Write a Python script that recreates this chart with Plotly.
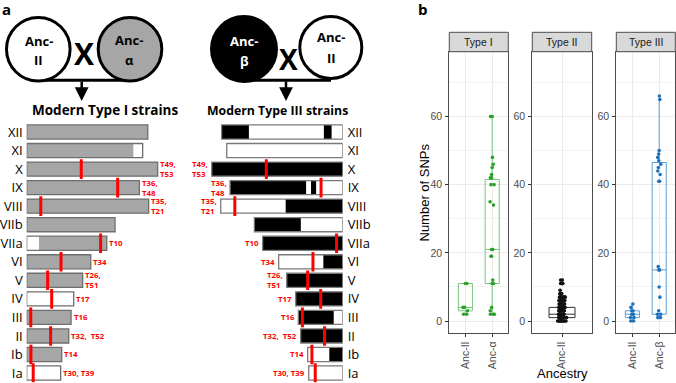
import plotly.graph_objects as go

W, H = 676, 383

# ---------------- data: panel a ----------------
chroms = ["XII", "XI", "X", "IX", "VIII", "VIIb", "VIIa", "VI", "V", "IV", "III", "II", "Ib", "Ia"]
chrom_len_mb = [6.88, 6.59, 7.44, 6.40, 6.93, 5.02, 4.55, 3.64, 3.18, 2.67, 2.52, 2.39, 1.99, 1.93]

# Modern Type I: segments inherited from Anc-alpha (grey); remainder from Anc-II (white)
t1_alpha_chrom = ["XII", "XI", "X", "IX", "VIII", "VIIb", "VIIa", "VI", "V", "III", "II", "Ib"]
t1_alpha_start = [0, 0, 0, 0, 0, 0, 0.70, 0, 0, 0, 0, 0]
t1_alpha_end = [6.88, 6.06, 7.44, 6.40, 6.93, 5.02, 4.55, 3.64, 3.18, 2.52, 2.39, 1.99]

# Modern Type III: segments inherited from Anc-beta (black); remainder from Anc-II (white)
t3_beta_chrom = ["XII", "XII", "X", "IX", "IX", "VIII", "VIIb", "VIIa", "VI", "V", "IV", "III", "II", "Ib"]
t3_beta_start = [0, 5.81, 0, 0, 4.60, 3.69, 0, 0, 2.54, 0, 0, 0, 0, 1.23]
t3_beta_end = [1.55, 6.25, 7.44, 4.32, 4.89, 6.93, 2.64, 4.55, 3.64, 3.18, 2.67, 2.01, 2.39, 1.99]

mark_chrom = ["X", "IX", "VIII", "VIIa", "VI", "V", "IV", "III", "II", "Ib", "Ia"]
mark_pos_mb = [3.10, 5.17, 0.80, 4.20, 1.95, 1.19, 1.42, 0.23, 1.36, 0.24, 0.37]
mark_label = ["T49,<br>T53", "T36,<br>T48", "T35,<br>T21", "T10", "T34", "T26,<br>T51", "T17", "T16",
              "T32,\u00a0 T52", "T14", "T30, T39"]

# ---------------- data: panel b ----------------
cats_I = ["Anc-II", "Anc-α"]
cats_II = ["Anc-II"]
cats_III = ["Anc-II", "Anc-β"]

snp_I_ancII = [11, 11, 4, 4, 3, 2, 2]
snp_I_ancA = [60, 60, 60, 48, 46, 45, 43, 42, 42, 40, 40, 35, 34, 21, 21, 19, 19, 12, 11, 11, 4, 3, 2, 2, 2]
snp_II_ancII = [0, 0, 0, 0, 0, 0, 0, 0, 0, 0,
                1, 1, 1, 1, 1, 1, 1, 1, 1, 1, 1, 1,
                2, 2, 2, 2, 2, 2, 2, 2, 2, 2, 2, 2,
                3, 3, 3, 3, 3, 3, 3, 3, 3, 3,
                4, 4, 4, 4, 4, 4, 4, 4, 4, 4,
                5, 5, 5, 5, 5, 5, 5, 5, 5,
                6, 6, 6, 6, 6, 6, 6, 6,
                7, 7, 7, 7, 7, 7, 7,
                8, 8, 8, 8, 8, 8,
                9, 11, 11, 11, 11, 11, 12, 12]
snp_III_ancII = [0, 0, 1, 1, 2, 2, 2, 3, 3, 4, 5]
snp_III_ancB = [66, 65, 50, 49, 48, 47, 46, 45, 44, 43, 41, 41, 16, 15, 15, 10, 7, 3, 2, 2, 1, 1]

box_I = dict(q1=[3, 11], median=[4, 21], q3=[11, 41.5], lowerfence=[2, 2], upperfence=[11, 60])
box_II = dict(q1=[1], median=[2], q3=[4], lowerfence=[0], upperfence=[8])
box_III = dict(q1=[1, 2], median=[2, 15], q3=[3, 46.5], lowerfence=[0, 1], upperfence=[5, 65.5])

# ---------------- helpers ----------------
FA = "Open Sans"
FB = "Liberation Sans"


def pxx(x):
    return x / W


def pxy(y):
    return 1 - y / H


fig = go.Figure()

SCALE = 17.6          # px per Mb
ROW0, STEP = 132, 18.54
ydom_a = [pxy(ROW0 + 13.5 * STEP), pxy(ROW0 - 0.5 * STEP)]
BARW = 0.76
GREY = "#a6a6a6"
OUTL = "#6e6e6e"

# ----- left chromosome panel (Type I) -----
fig.add_trace(go.Bar(orientation="h", y=chroms, x=chrom_len_mb, base=[0] * len(chroms), width=BARW,
                     marker=dict(color="white", line=dict(width=0)), xaxis="x", yaxis="y"))
fig.add_trace(go.Bar(orientation="h", y=t1_alpha_chrom,
                     x=[e - s for s, e in zip(t1_alpha_start, t1_alpha_end)], base=t1_alpha_start,
                     width=BARW, marker=dict(color=GREY, line=dict(width=0)), xaxis="x", yaxis="y"))
fig.add_trace(go.Bar(orientation="h", y=chroms, x=chrom_len_mb, base=[0] * len(chroms), width=BARW,
                     marker=dict(color="rgba(0,0,0,0)", line=dict(width=1.3, color=OUTL)),
                     xaxis="x", yaxis="y"))
fig.add_trace(go.Scatter(x=mark_pos_mb, y=mark_chrom, mode="markers",
                         marker=dict(symbol="line-ns", size=14, line=dict(width=3, color="#ff0000")),
                         xaxis="x", yaxis="y"))

# ----- right chromosome panel (Type III), right-aligned -----
lenmap = dict(zip(chroms, chrom_len_mb))
fig.add_trace(go.Bar(orientation="h", y=chroms, x=chrom_len_mb, base=[-L for L in chrom_len_mb], width=BARW,
                     marker=dict(color="white", line=dict(width=0)), xaxis="x2", yaxis="y2"))
fig.add_trace(go.Bar(orientation="h", y=t3_beta_chrom,
                     x=[e - s for s, e in zip(t3_beta_start, t3_beta_end)],
                     base=[s - lenmap[c] for c, s in zip(t3_beta_chrom, t3_beta_start)],
                     width=BARW, marker=dict(color="black", line=dict(width=0)), xaxis="x2", yaxis="y2"))
fig.add_trace(go.Bar(orientation="h", y=chroms, x=chrom_len_mb, base=[-L for L in chrom_len_mb], width=BARW,
                     marker=dict(color="rgba(0,0,0,0)", line=dict(width=1.3, color="#7a7a7a")),
                     xaxis="x2", yaxis="y2"))
fig.add_trace(go.Scatter(x=[p - lenmap[c] for c, p in zip(mark_chrom, mark_pos_mb)], y=mark_chrom,
                         mode="markers",
                         marker=dict(symbol="line-ns", size=14, line=dict(width=3, color="#ff0000")),
                         xaxis="x2", yaxis="y2"))

annotations = []
RED = "#ff0000"
for c, lab in zip(mark_chrom, mark_label):
    annotations.append(dict(x=lenmap[c], y=c, xref="x", yref="y", text=lab, showarrow=False,
                            xanchor="left", yanchor="middle", xshift=1.5, align="left",
                            borderpad=0,
                            font=dict(family=FA, size=7.8, color=RED, weight="bold")))
    annotations.append(dict(x=-lenmap[c], y=c, xref="x2", yref="y2", text=lab, showarrow=False,
                            xanchor="right", yanchor="middle", xshift=-2.5, align="left",
                            borderpad=0,
                            font=dict(family=FA, size=7.8, color=RED, weight="bold")))

# ----- panel b: boxes and points -----
facets = [
    ("x3", "y3", cats_I, box_I, [snp_I_ancII, snp_I_ancA], "#2ca02c", "#79c679", 0.4),
    ("x4", "y4", cats_II, box_II, [snp_II_ancII], "#111111", "#333333", 0.4),
    ("x5", "y5", cats_III, box_III, [snp_III_ancII, snp_III_ancB], "#1f72b8", "#5b9fd6", 0.35),
]
for xa, ya, cats, st, pts, pcol, bcol, jit in facets:
    fig.add_trace(go.Box(x=cats, q1=st["q1"], median=st["median"], q3=st["q3"],
                         lowerfence=st["lowerfence"], upperfence=st["upperfence"],
                         boxpoints=False, whiskerwidth=0, fillcolor="rgba(255,255,255,0)",
                         line=dict(color=bcol, width=1), xaxis=xa, yaxis=ya))
    for cat, vals in zip(cats, pts):
        fig.add_trace(go.Box(x=[cat] * len(vals), y=vals, boxpoints="all", jitter=jit, pointpos=0,
                             fillcolor="rgba(0,0,0,0)", line=dict(color="rgba(0,0,0,0)", width=0),
                             marker=dict(color=pcol, size=3.6, line=dict(width=0)),
                             xaxis=xa, yaxis=ya))

PB_TOP, PB_BOT = 51.7, 333.3
ydom_b = [pxy(PB_BOT), pxy(PB_TOP)]
facet_x = [(449.3, 508.3, [-0.6, 1.6]), (532.3, 591.7, [-0.6, 0.6]), (616.3, 675.3, [-0.6, 1.6])]
strip_txt = ["Type I", "Type II", "Type III"]

layout_axes = {}
for k, (x0, x1, rng) in enumerate(facet_x):
    xi, yi = 3 + k, 3 + k
    layout_axes[f"xaxis{xi}"] = dict(
        domain=[pxx(x0), pxx(x1)], range=rng, anchor=f"y{yi}", type="category",
        showgrid=True, gridcolor="#ebebeb", gridwidth=1, zeroline=False,
        showline=True, mirror=True, linecolor="#4d4d4d", linewidth=1,
        ticks="outside", ticklen=3, tickcolor="#333333", tickwidth=1,
        tickangle=-90, tickfont=dict(family=FB, size=10.5, color="#4d4d4d"))
    layout_axes[f"yaxis{yi}"] = dict(
        domain=ydom_b, range=[-3.6, 79], anchor=f"x{xi}",
        tickvals=[0, 20, 40, 60], showgrid=True, gridcolor="#ebebeb", gridwidth=1, zeroline=False,
        minor=dict(tick0=0, dtick=10, showgrid=True, gridcolor="#f3f3f3", gridwidth=0.6),
        showline=True, mirror=True, linecolor="#4d4d4d", linewidth=1,
        ticks="outside", ticklen=3, tickcolor="#333333", tickwidth=1, ticklabelstandoff=1,
        tickfont=dict(family=FB, size=10.5, color="#4d4d4d"))

shapes = []
for (x0, x1, rng), t in zip(facet_x, strip_txt):
    shapes.append(dict(type="rect", xref="paper", yref="paper", x0=pxx(x0), x1=pxx(x1),
                       y0=pxy(51.7), y1=pxy(32.3), fillcolor="#d9d9d9",
                       line=dict(color="#4d4d4d", width=1)))
    annotations.append(dict(x=pxx((x0 + x1) / 2), y=pxy(42), xref="paper", yref="paper", text=t,
                            xanchor="center", yanchor="middle",
                            showarrow=False, font=dict(family=FB, size=10.5, color="#1a1a1a")))

annotations.append(dict(x=pxx(424), y=pxy(192.5), xref="paper", yref="paper", text="Number of SNPs",
                        xanchor="center", yanchor="middle",
                        textangle=-90, showarrow=False, font=dict(family=FB, size=13, color="black")))
annotations.append(dict(x=pxx(562.3), y=pxy(373), xref="paper", yref="paper", text="Ancestry",
                        xanchor="center", yanchor="middle",
                        showarrow=False, font=dict(family=FB, size=13, color="black")))


# ----- schematic (top of panel a) -----
def circle(cx, cy, r, fill):
    return dict(type="circle", xref="paper", yref="paper", x0=pxx(cx - r), x1=pxx(cx + r),
                y0=pxy(cy + r), y1=pxy(cy - r), fillcolor=fill, line=dict(color="black", width=3))


def hline(xa, xb, y):
    return dict(type="line", xref="paper", yref="paper", x0=pxx(xa), x1=pxx(xb), y0=pxy(y), y1=pxy(y),
                line=dict(color="black", width=3))


shapes += [hline(38.3, 130, 80.3), hline(244, 331, 80.3),
           circle(38.3, 49.2, 31.8, "white"), circle(130, 49.2, 31.8, GREY),
           circle(244, 49, 32.5, "black"), circle(330.8, 47.5, 31, "white")]


def txt(t, x, y, size, color="black", bold=True, family=FA):
    annotations.append(dict(x=pxx(x), y=pxy(y), xref="paper", yref="paper", text=t, showarrow=False,
                            xanchor="center", yanchor="middle",
                            font=dict(family=family, size=size, color=color,
                                      weight="bold" if bold else "normal")))


txt("Anc-", 38.5, 41, 13)
txt("II", 38.5, 60, 13)
txt("Anc-", 129, 40, 13)
txt("α", 129, 60, 13)
txt("Anc-", 244, 41, 13, color="white")
txt("β", 244, 61, 13, color="white")
txt("Anc-", 331, 37.5, 13)
txt("II", 331, 57.5, 13)
txt("X", 84, 53, 30)
txt("X", 288, 58.5, 28)
txt("Modern Type I strains", 105, 110, 13.5)
txt("Modern Type III strains", 277.5, 110, 12.3)
txt("a", 6.5, 9, 15)
txt("b", 423.5, 9.5, 15)

for xa in (81.7, 286):
    annotations.append(dict(x=pxx(xa), y=pxy(101), xref="paper", yref="paper", ax=0, ay=-21,
                            text="", showarrow=True, arrowhead=2, arrowsize=1.1, arrowwidth=2.5,
                            arrowcolor="black"))

fig.update_layout(
    width=W, height=H, margin=dict(l=0, r=0, t=0, b=0),
    paper_bgcolor="white", plot_bgcolor="white", showlegend=False,
    barmode="overlay", boxmode="overlay", boxgap=0.25,
    xaxis=dict(domain=[pxx(26.7), pxx(190)], range=[0, (190 - 26.7) / SCALE], visible=False, anchor="y"),
    yaxis=dict(domain=ydom_a, type="category", categoryorder="array", categoryarray=chroms,
               range=[13.5, -0.5], anchor="x", showgrid=False, zeroline=False, showline=False,
               ticks="", ticklabelstandoff=3, tickfont=dict(family=FA, size=13, color="black")),
    xaxis2=dict(domain=[pxx(200), pxx(342.7)], range=[-(342.7 - 200) / SCALE, 0], visible=False, anchor="y2"),
    yaxis2=dict(domain=ydom_a, type="category", categoryorder="array", categoryarray=chroms,
                range=[13.5, -0.5], anchor="x2", side="right", showgrid=False, zeroline=False,
                showline=False, ticks="", ticklabelstandoff=4,
                tickfont=dict(family=FA, size=13, color="black")),
    shapes=shapes, annotations=annotations,
    **layout_axes,
)

fig.write_html("out.html", config={"displayModeBar": False},
               post_script="document.body.style.margin='0';document.body.style.padding='0';"
                           "document.body.style.overflow='hidden';")
